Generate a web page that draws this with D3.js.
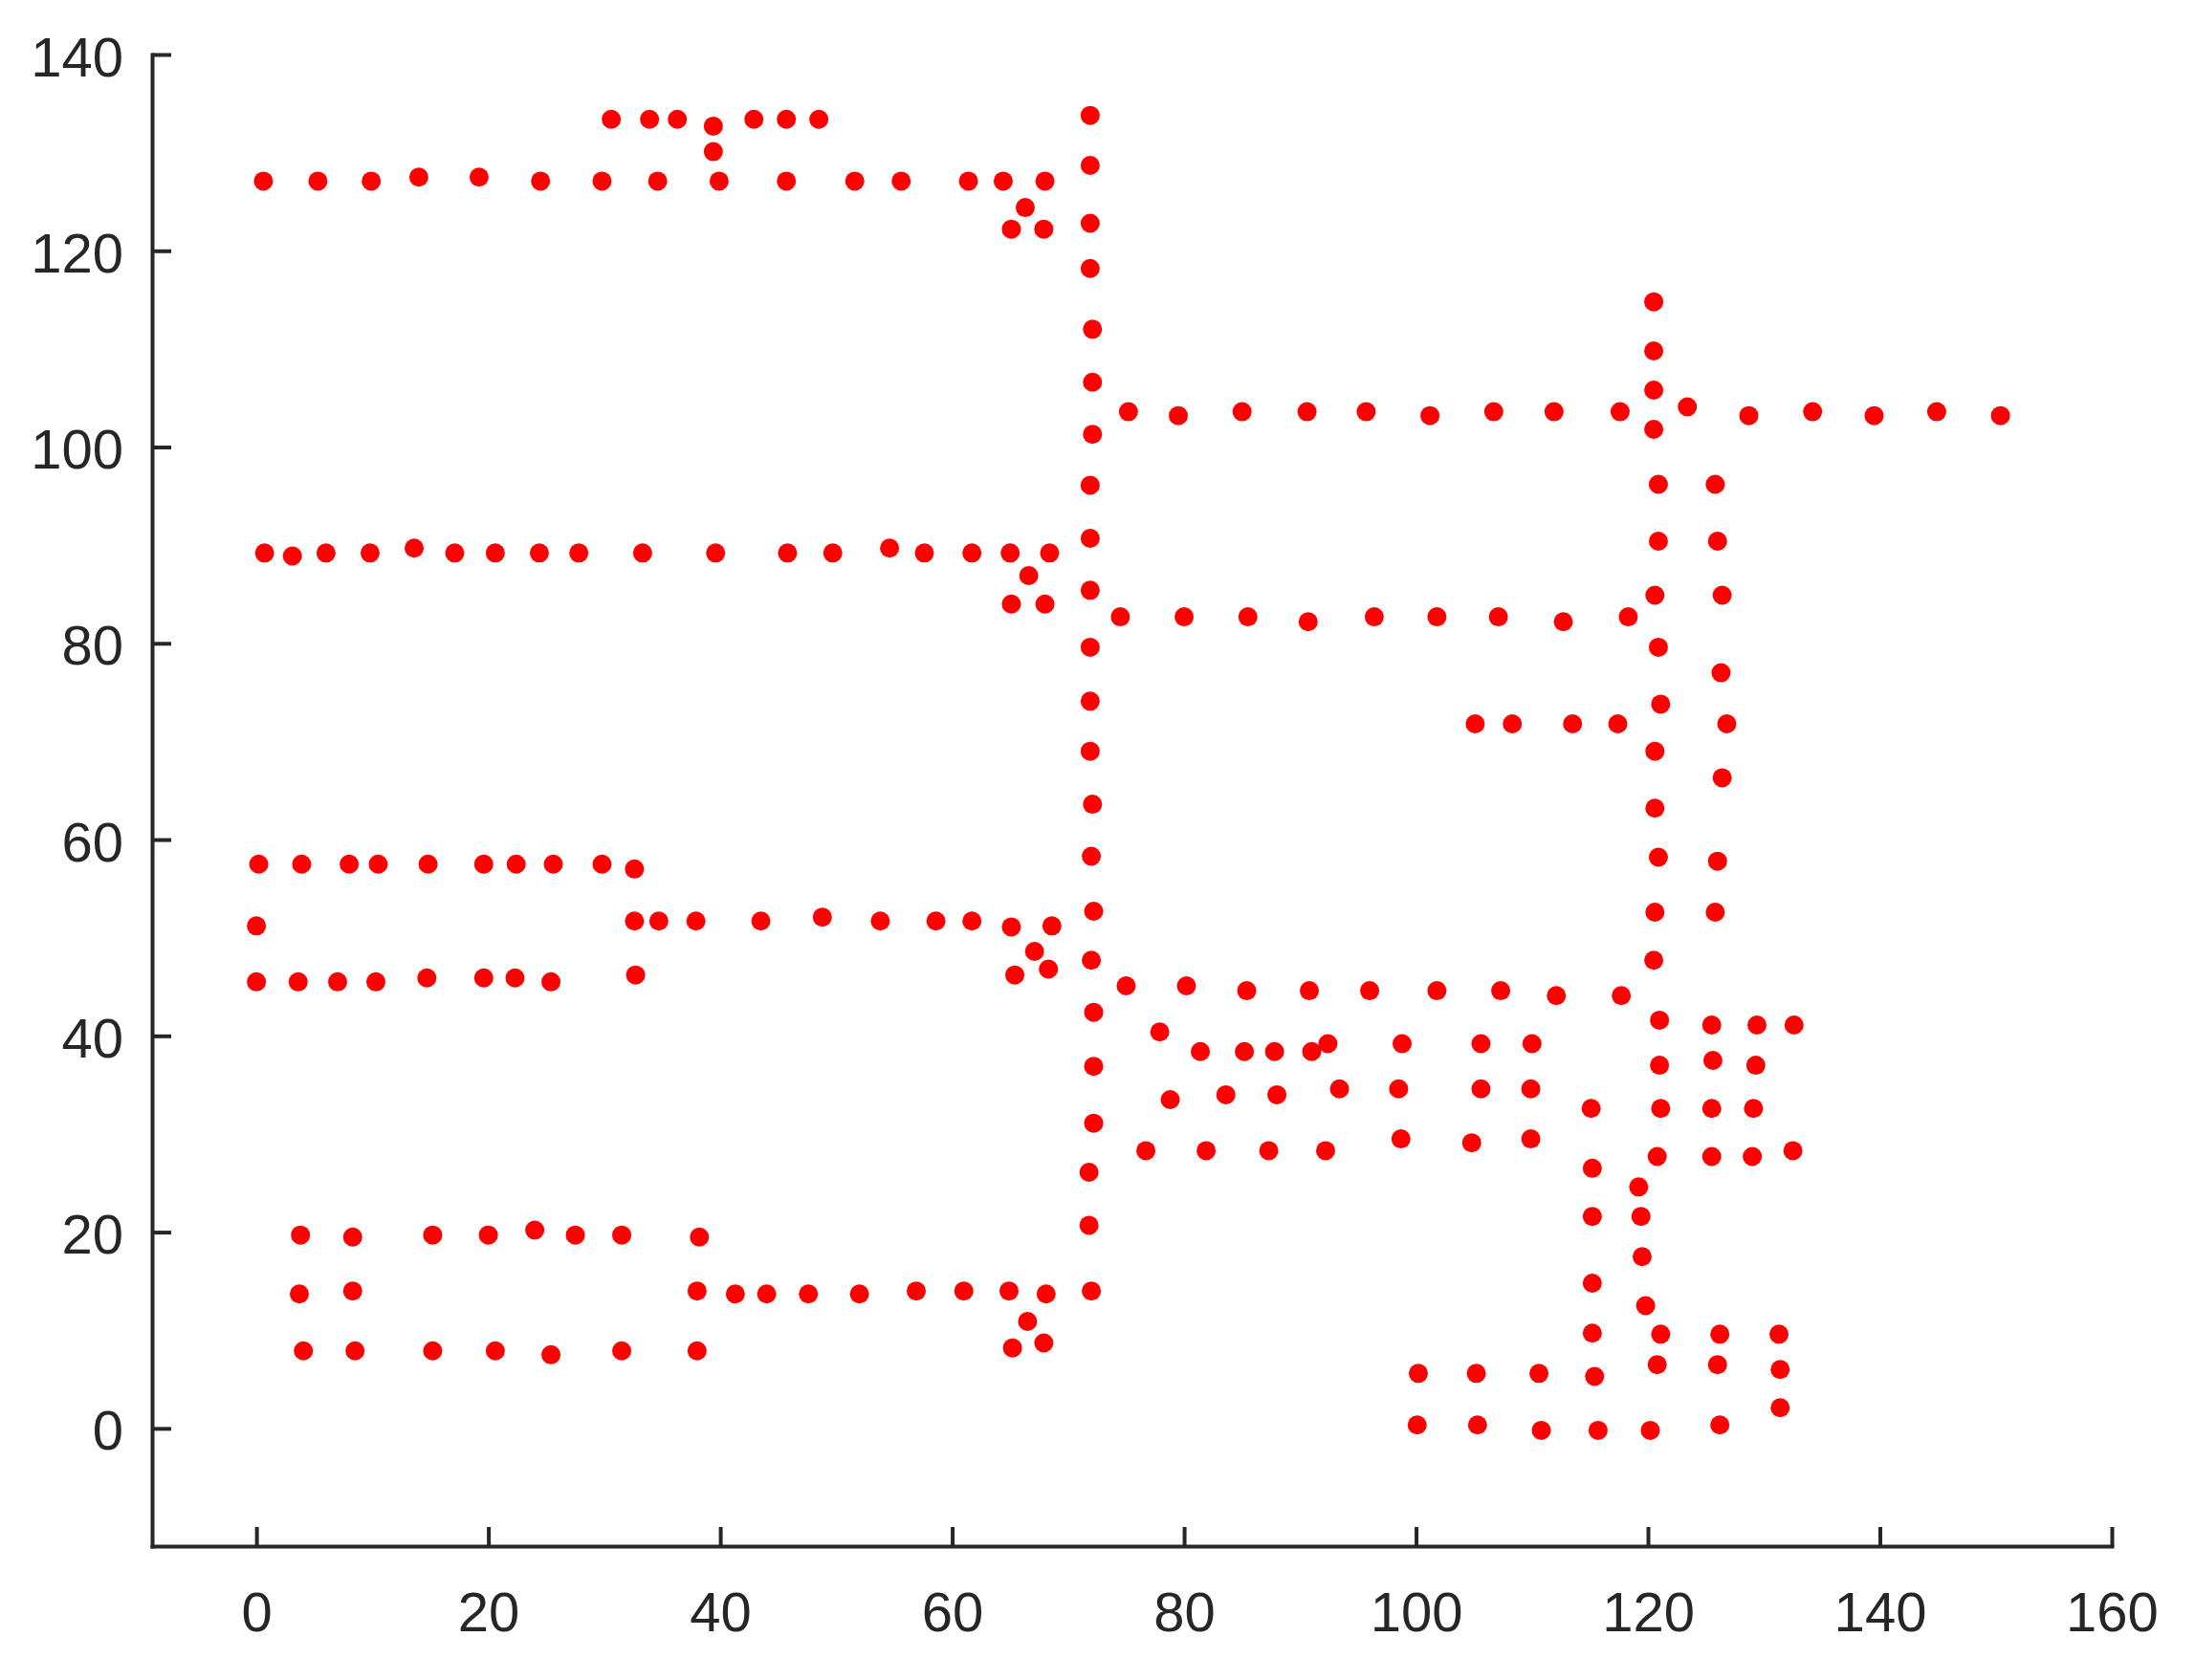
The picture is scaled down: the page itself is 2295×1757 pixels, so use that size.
<!DOCTYPE html>
<html>
<head>
<meta charset="utf-8">
<script src="https://cdn.jsdelivr.net/npm/d3@7"></script>
<style>
  html, body { margin: 0; padding: 0; background: #ffffff; }
  svg { display: block; }
</style>
</head>
<body>
<svg id="chart" width="2295" height="1757"></svg>
<script>
// ---- data (x, y) ----
const xTicks = [0, 20, 40, 60, 80, 100, 120, 140, 160];
const yTicks = [0, 20, 40, 60, 80, 100, 120, 140];

const topBlock = [
  [30.6,133.4],[33.9,133.4],[36.3,133.4],[39.4,132.7],[39.4,130.1],[42.9,133.4],[45.7,133.4],[48.5,133.4],
  [0.6,127.1],[5.3,127.1],[9.9,127.1],[14.0,127.5],[19.2,127.5],[24.5,127.1],[29.8,127.1],[34.6,127.1],
  [39.9,127.1],[45.7,127.1],[51.6,127.1],[55.6,127.1],[61.4,127.1],[64.4,127.1],[68.0,127.1],
  [66.3,124.4],[65.1,122.2],[67.9,122.2]
];
const upperLeft = [
  [0.7,89.2],[3.1,88.9],[6.0,89.2],[9.8,89.2],[13.6,89.7],[17.1,89.2],[20.6,89.2],[24.4,89.2],[27.8,89.2],
  [33.3,89.2],[39.6,89.2],[45.8,89.2],[49.7,89.2],[54.6,89.7],[57.6,89.2],[61.7,89.2],[65.0,89.2],[68.4,89.2],
  [66.6,86.9],[65.1,84.0],[68.0,84.0]
];
const midLeft = [
  [0.2,57.5],[3.9,57.5],[8.0,57.5],[10.5,57.5],[14.8,57.5],[19.6,57.5],[22.4,57.5],[25.6,57.5],[29.8,57.5],[32.6,57.0],
  [0.0,51.2],
  [32.6,51.7],[34.7,51.7],[37.9,51.7],[43.5,51.7],[48.8,52.1],[53.8,51.7],[58.6,51.7],[61.7,51.7],[65.1,51.1],[68.6,51.2],
  [67.1,48.6],[65.4,46.2],[68.3,46.8],[32.7,46.2],
  [0.0,45.5],[3.6,45.5],[7.0,45.5],[10.3,45.5],[14.7,45.9],[19.6,45.9],[22.3,45.9],[25.4,45.5]
];
const bottomLeft = [
  [3.8,19.7],[8.3,19.5],[15.2,19.7],[20.0,19.7],[24.0,20.2],[27.5,19.7],[31.5,19.7],[38.2,19.5],
  [3.7,13.7],[8.3,14.0],[38.0,14.0],[41.3,13.7],[44.0,13.7],[47.6,13.7],[52.0,13.7],[56.9,14.0],[61.0,14.0],[64.9,14.0],[68.1,13.7],
  [66.5,10.9],[65.2,8.2],[67.9,8.7],
  [4.05,7.9],[8.5,7.9],[15.2,7.9],[20.6,7.9],[25.4,7.5],[31.5,7.9],[38.0,7.9]
];
const spine = [
  [71.9,133.8],[71.9,128.7],[71.9,122.8],[71.9,118.2],[72.1,112.0],[72.1,106.6],[72.1,101.3],[71.9,96.1],
  [71.9,90.7],[71.9,85.4],[71.9,79.6],[71.9,74.1],[71.9,69.0],[72.1,63.6],[72.0,58.3],[72.2,52.7],
  [72.0,47.7],[72.2,42.4],[72.2,36.9],[72.2,31.1],[71.8,26.1],[71.8,20.7],[72.0,14.0]
];
const rightRow103 = [
  [75.2,103.6],[79.5,103.2],[85.0,103.6],[90.6,103.6],[95.7,103.6],[101.2,103.2],[106.7,103.6],[111.9,103.6],
  [117.6,103.6],[123.4,104.1],[128.7,103.2],[134.2,103.6],[139.5,103.2],[144.9,103.6],[150.4,103.2]
];
const rightRow82 = [
  [74.5,82.7],[80.0,82.7],[85.5,82.7],[90.7,82.2],[96.4,82.7],[101.8,82.7],[107.1,82.7],[112.7,82.2],[118.3,82.7]
];
const rightRow72 = [[105.1,71.8],[108.3,71.8],[113.5,71.8],[117.4,71.8]];
const rightRow45 = [
  [75.0,45.1],[80.2,45.1],[85.4,44.6],[90.8,44.6],[96.0,44.6],[101.8,44.6],[107.3,44.6],[112.1,44.1],[117.7,44.1]
];
const col120 = [
  [120.5,114.8],[120.5,109.8],[120.5,105.8],[120.5,101.8],[120.9,96.2],[120.9,90.4],[120.6,84.9],[120.9,79.6],
  [121.1,73.8],[120.6,69.0],[120.6,63.2],[120.9,58.2],[120.6,52.6],[120.5,47.7],[121.0,41.6],[121.0,37.0],
  [121.1,32.6],[120.8,27.7],[121.1,9.6],[120.8,6.5],[120.2,-0.2]
];
const col126 = [
  [125.8,96.2],[126.0,90.4],[126.4,84.9],[126.3,77.0],[126.8,71.8],[126.4,66.3],[126.0,57.8],[125.8,52.6],
  [125.5,41.1],[125.6,37.5],[125.5,32.6],[125.5,27.7],[126.2,9.6],[126.0,6.5],[126.2,0.35]
];
const rightCols = [
  [129.4,41.1],[129.3,37.0],[129.1,32.6],[129.0,27.7],[132.6,41.1],[132.5,28.3],[131.3,9.6],[131.4,6.0],[131.4,2.1]
];
const lowerCluster = [
  [77.9,40.4],[81.4,38.4],[85.2,38.4],[87.8,38.4],[91.0,38.4],[92.4,39.2],[98.8,39.2],[105.6,39.2],[110.0,39.2],
  [78.8,33.5],[83.6,34.0],[88.0,34.0],[93.4,34.6],[98.5,34.6],[105.6,34.6],[109.9,34.6],
  [76.7,28.3],[81.9,28.3],[87.3,28.3],[92.2,28.3],[98.7,29.5],[104.8,29.1],[109.9,29.5]
];
const col115 = [[115.1,32.6],[115.2,26.5],[115.2,21.6],[115.2,14.8],[115.2,9.7],[115.4,5.3],[115.7,-0.2]];
const col119 = [[119.2,24.6],[119.4,21.6],[119.5,17.5],[119.8,12.5]];
const bottomRight = [[100.2,5.6],[105.2,5.6],[110.6,5.6],[100.1,0.35],[105.3,0.35],[110.8,-0.2]];

const allPoints = [].concat(topBlock, upperLeft, midLeft, bottomLeft, spine,
  rightRow103, rightRow82, rightRow72, rightRow45, col120, col126, rightCols,
  lowerCluster, col115, col119, bottomRight);

// ---- layout ----
const svg = d3.select("#chart");
const x = d3.scaleLinear().domain([-9, 160]).range([159, 2208]);
const y = d3.scaleLinear().domain([-12, 140]).range([1617, 57]);
const axisColor = "#262626";
const fontFamily = "'Liberation Sans', Arial, Helvetica, sans-serif";

// points
svg.append("g")
  .selectAll("circle")
  .data(allPoints)
  .join("circle")
  .attr("cx", d => x(d[0]))
  .attr("cy", d => y(d[1]))
  .attr("r", 10)
  .attr("fill", "#ff0000");

// axes
const xAxis = d3.axisBottom(x).tickValues(xTicks).tickSizeInner(-20).tickSizeOuter(0).tickPadding(48);
const yAxis = d3.axisLeft(y).tickValues(yTicks).tickSizeInner(-20).tickSizeOuter(0).tickPadding(30);

const gx = svg.append("g").attr("transform", `translate(0,${y(-12)})`).call(xAxis);
const gy = svg.append("g").attr("transform", `translate(${x(-9)},0)`).call(yAxis);

[gx, gy].forEach(g => {
  g.select(".domain").attr("stroke", axisColor).attr("stroke-width", 4).attr("stroke-linecap", "square");
  g.selectAll(".tick line").attr("stroke", axisColor).attr("stroke-width", 4);
  g.selectAll(".tick text")
    .attr("fill", axisColor)
    .style("font-family", fontFamily)
    .style("font-size", "58px");
});
gy.selectAll(".tick text").attr("dy", "0.38em");
</script>
</body>
</html>
